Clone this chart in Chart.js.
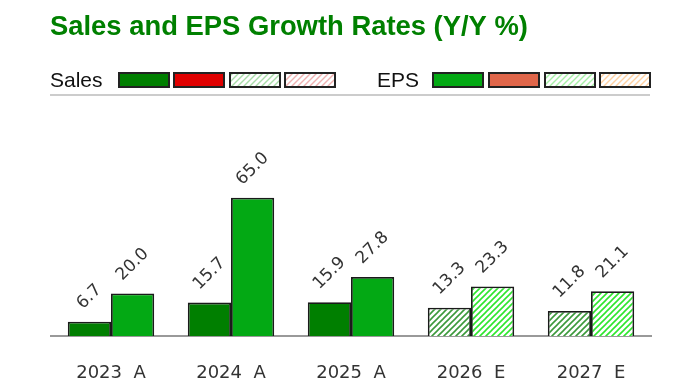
<!DOCTYPE html>
<html>
<head>
<meta charset="utf-8">
<script src="https://cdn.jsdelivr.net/npm/chart.js@4.4.1/dist/chart.umd.min.js"></script>
<style>
html,body{margin:0;padding:0;background:#fff;}
#wrap{width:700px;height:387px;position:relative;}
</style>
</head>
<body>
<div id="wrap"><canvas id="c" width="700" height="387"></canvas></div>
<script>
// ---- data ----
const categories = ['2023', '2024', '2025', '2026', '2027'];
const periodKinds = ['A', 'A', 'A', 'E', 'E'];   // A = actual, E = estimate
const salesGrowth = [6.7, 15.7, 15.9, 13.3, 11.8];
const epsGrowth = [20.0, 65.0, 27.8, 23.3, 21.1];
const titleText = 'Sales and EPS Growth Rates (Y/Y %)';
const legendSalesLabel = 'Sales';
const legendEpsLabel = 'EPS';

// ---- styles ----
const SALES_COLOR = '#007f00';
const EPS_COLOR = '#03a914';

function hatch(stripe, bg, step, lw) {
  const p = document.createElement('canvas');
  p.width = step; p.height = step;
  const g = p.getContext('2d');
  g.fillStyle = bg; g.fillRect(0, 0, step, step);
  g.strokeStyle = stripe; g.lineWidth = lw;
  g.beginPath();
  g.moveTo(-1, step + 1); g.lineTo(step + 1, -1);
  g.moveTo(-1, 1); g.lineTo(1, -1);
  g.moveTo(step - 1, step + 1); g.lineTo(step + 1, step - 1);
  g.stroke();
  return g.createPattern(p, 'repeat');
}

const salesHatch = hatch('#3c9a3c', '#ffffff', 6, 1.6);
const epsHatch = hatch('#2ee62e', '#ffffff', 6, 1.6);

const labels = categories.map((c, i) => c + '  ' + periodKinds[i]);
const salesFill = periodKinds.map(k => k === 'A' ? SALES_COLOR : salesHatch);
const epsFill = periodKinds.map(k => k === 'A' ? EPS_COLOR : epsHatch);

const headerPlugin = {
  id: 'header',
  beforeDraw(chart) {
    const ctx = chart.ctx;
    ctx.save();
    ctx.fillStyle = '#008000';
    ctx.font = 'bold 27.4px "Liberation Sans", Arial, sans-serif';
    ctx.textBaseline = 'alphabetic';
    ctx.textAlign = 'left';
    ctx.fillText(titleText, 50, 35);

    ctx.fillStyle = '#111';
    ctx.font = '21px "Liberation Sans", Arial, sans-serif';
    ctx.fillText(legendSalesLabel, 50, 87);
    ctx.fillText(legendEpsLabel, 377, 87);

    const sw = [
      [119, SALES_COLOR], [174, '#e00000'],
      [230, hatch('#a8dca8', '#ffffff', 6, 1.4)], [285, hatch('#efb0b0', '#ffffff', 6, 1.4)],
      [433, EPS_COLOR], [489, '#e0664a'],
      [545, hatch('#a6f0a6', '#ffffff', 6, 1.4)], [600, hatch('#ffd0a0', '#ffffff', 6, 1.4)]
    ];
    sw.forEach(([x, fill]) => {
      ctx.fillStyle = fill;
      ctx.fillRect(x, 73, 50, 14);
      ctx.strokeStyle = '#222';
      ctx.lineWidth = 2;
      ctx.strokeRect(x, 73, 50, 14);
    });

    ctx.strokeStyle = '#cccccc';
    ctx.lineWidth = 2;
    ctx.beginPath();
    ctx.moveTo(50, 95); ctx.lineTo(650, 95);
    ctx.stroke();
    ctx.restore();
  }
};

const valueLabelPlugin = {
  id: 'valueLabels',
  afterDatasetsDraw(chart) {
    const ctx = chart.ctx;
    ctx.save();
    ctx.fillStyle = '#333';
    ctx.font = '17px "DejaVu Sans", sans-serif';
    ctx.textAlign = 'left';
    ctx.textBaseline = 'middle';
    chart.data.datasets.forEach((ds, di) => {
      const meta = chart.getDatasetMeta(di);
      meta.data.forEach((bar, i) => {
        const txt = ds.data[i].toFixed(1);
        const L = ctx.measureText(txt).width;
        ctx.save();
        ctx.translate(bar.x - 0.354 * L, bar.y - 15.5);
        ctx.rotate(-Math.PI / 4);
        ctx.fillText(txt, 0, 0);
        ctx.restore();
      });
    });
    ctx.restore();
  }
};

new Chart(document.getElementById('c'), {
  type: 'bar',
  data: {
    labels: labels,
    datasets: [
      { label: 'Sales', data: salesGrowth, backgroundColor: salesFill,
        borderColor: '#1a1a1a', borderWidth: 1.8, borderSkipped: 'bottom' },
      { label: 'EPS', data: epsGrowth, backgroundColor: epsFill,
        borderColor: '#1a1a1a', borderWidth: 1.8, borderSkipped: 'bottom' }
    ]
  },
  options: {
    responsive: false,
    animation: false,
    devicePixelRatio: 1,
    layout: { padding: { top: 100, left: 51, right: 49, bottom: 0 } },
    datasets: { bar: { categoryPercentage: 0.72, barPercentage: 1.0 } },
    plugins: { legend: { display: false }, title: { display: false }, tooltip: { enabled: false } },
    scales: {
      x: {
        grid: { display: false, drawTicks: false },
        border: { display: true, color: '#999999', width: 2 },
        ticks: { color: '#333', font: { family: '"DejaVu Sans", sans-serif', size: 18 }, padding: 27, maxRotation: 0 },
        afterFit(scale) { scale.height = 51; }
      },
      y: {
        display: false,
        min: 0,
        max: 111,
        grid: { display: false }
      }
    }
  },
  plugins: [headerPlugin, valueLabelPlugin]
});
</script>
</body>
</html>
